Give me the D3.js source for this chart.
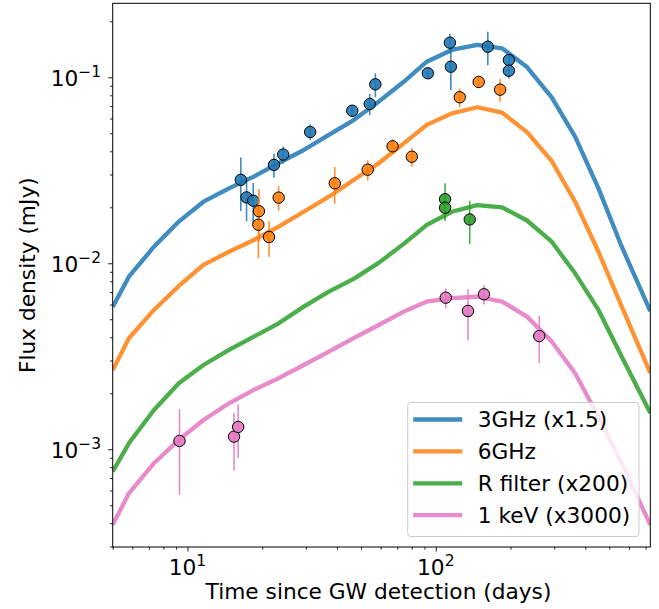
<!DOCTYPE html>
<html>
<head>
<meta charset="utf-8">
<script src="https://cdn.jsdelivr.net/npm/d3@7"></script>
<style>
  body { margin: 0; background: #fff; }
  svg { font-family: "DejaVu Sans", sans-serif; }
</style>
</head>
<body>
<svg id="chart" width="659" height="609"></svg>
<script>
// model light curves (days, mJy)
var modelDays = [5.00, 5.81, 7.33, 9.23, 11.6, 14.7, 18.5, 23.3, 29.4, 37.1, 46.7, 58.9,
                 74.3, 92.0, 116, 147, 185, 233, 293, 364, 452, 561, 731];
var model3GHz = [0.00582, 0.00847, 0.01227, 0.01675, 0.02143, 0.02529, 0.02924, 0.03451,
                 0.04064, 0.04898, 0.05888, 0.07396, 0.09462, 0.1213, 0.1403, 0.1493,
                 0.1432, 0.1135, 0.0780, 0.0480, 0.02529, 0.01227, 0.00553];
var model6GHz = [0.002667, 0.003954, 0.00561, 0.007551, 0.009795, 0.01153, 0.01334, 0.01574,
                 0.01892, 0.0228, 0.02805, 0.03451, 0.04416, 0.05546, 0.06397, 0.06902,
                 0.06457, 0.0507, 0.03548, 0.02143, 0.01153, 0.00585, 0.00257];
var modelR    = [0.000759, 0.001076, 0.001626, 0.002265, 0.002838, 0.00342, 0.004027, 0.004753,
                 0.005848, 0.007031, 0.008241, 0.01005, 0.01271, 0.01607, 0.01892, 0.02056,
                 0.0200, 0.01698, 0.01306, 0.00883, 0.00561, 0.00314, 0.001567];
var model1keV = [0.000392, 0.000579, 0.000841, 0.001122, 0.001436, 0.001766, 0.002084, 0.00241,
                 0.002838, 0.00335, 0.003954, 0.004656, 0.005495, 0.006223, 0.006486, 0.006607,
                 0.006223, 0.005164, 0.003793, 0.002564, 0.001496, 0.000839, 0.000392];

// observations
var obs3GHzDays = [16.4, 17.3, 18.4, 22.3, 24.3, 31.2, 46.1, 54.2, 57.1, 92.9, 114, 115, 162, 197, 197];
var obs3GHzFlux = [0.0281, 0.0226, 0.0217, 0.0338, 0.0384, 0.0508, 0.0661, 0.0719, 0.0917,
                   0.1051, 0.1535, 0.114, 0.146, 0.1239, 0.1085];
var obs3GHzErr  = [0.009, 0.0058, 0.0053, 0.005, 0.004, 0.005, 0.0045, 0.0093, 0.0135,
                   0.006, 0.018, 0.0285, 0.03, 0.008, 0.01];

var obs6GHzDays = [19.4, 19.3, 21.3, 23.3, 39.2, 53.2, 67.0, 80.1, 124.9, 148.9, 181.6];
var obs6GHzFlux = [0.01905, 0.01612, 0.01384, 0.02254, 0.02692, 0.03186, 0.04256, 0.03741,
                   0.0781, 0.0944, 0.0858];
var obs6GHzErr  = [0.006, 0.0055, 0.003, 0.0034, 0.006, 0.004, 0.004, 0.0043, 0.009, 0.007, 0.012];

var obsRDays = [109, 109, 137];
var obsRFlux = [0.0221, 0.0199, 0.0172];
var obsRErr  = [0.0048, 0.003, 0.0045];

var obs1keVDays = [9.29, 15.4, 16.0, 109.7, 134.8, 156.3, 261];
var obs1keVFlux = [0.001108, 0.001169, 0.001318, 0.00653, 0.00554, 0.00681, 0.00406];
var obs1keVErr  = [0.00054, 0.0004, 0.00042, 0.0008, 0.0017, 0.0008, 0.00115];

var seriesNames  = ['3GHz (x1.5)', '6GHz', 'R filter (x200)', '1 keV (x3000)'];
var seriesColors = ['#1f77b4', '#ff7f0e', '#2ca02c', '#e377c2'];

var xMajor = [10, 100];
var yMajor = [0.001, 0.01, 0.1];
var xLabelExp = ['1', '2'];
var yLabelExp = ['\u22123', '\u22122', '\u22121'];

var models = [model3GHz, model6GHz, modelR, model1keV];
var observed = [
	{days: obs3GHzDays, flux: obs3GHzFlux, err: obs3GHzErr},
	{days: obs6GHzDays, flux: obs6GHzFlux, err: obs6GHzErr},
	{days: obsRDays, flux: obsRFlux, err: obsRErr},
	{days: obs1keVDays, flux: obs1keVFlux, err: obs1keVErr}
];

var svg = d3.select('#chart');
var margin = {left: 112.7, right: 8.7, top: 3.3, bottom: 62};
var W = 659, H = 609;
var pw = W - margin.left - margin.right;
var ph = H - margin.top - margin.bottom;
var fs = 21.7;

var x = d3.scaleLog().domain([5.0, 731]).range([0, pw]);
var y = d3.scaleLog().domain([2.98e-4, 0.25]).range([ph, 0]);

var g = svg.append('g').attr('transform', 'translate(' + margin.left + ',' + margin.top + ')');

g.append('clipPath').attr('id', 'clip')
	.append('rect').attr('width', pw).attr('height', ph);

// minor ticks at 2..9 of every decade
function minors(lo, hi) {
	var out = [];
	for (var e = Math.floor(Math.log10(lo)); e <= Math.ceil(Math.log10(hi)); e++) {
		for (var m = 2; m <= 9; m++) {
			var v = m * Math.pow(10, e);
			if (v >= lo && v <= hi) out.push(v);
		}
	}
	return out;
}

var xMinorAxis = g.append('g').attr('transform', 'translate(0,' + ph + ')')
	.call(d3.axisBottom(x).tickValues(minors(5.0, 731)).tickSize(2.6).tickFormat(''));
var yMinorAxis = g.append('g')
	.call(d3.axisLeft(y).tickValues(minors(2.98e-4, 0.25)).tickSize(2.6).tickFormat(''));
var xMajorAxis = g.append('g').attr('transform', 'translate(0,' + ph + ')')
	.call(d3.axisBottom(x).tickValues(xMajor).tickSize(4.5).tickFormat(''));
var yMajorAxis = g.append('g')
	.call(d3.axisLeft(y).tickValues(yMajor).tickSize(4.5).tickFormat(''));

[xMinorAxis, yMinorAxis, xMajorAxis, yMajorAxis].forEach(function(a){
	a.select('.domain').remove();
	a.selectAll('.tick line').attr('stroke', '#000').attr('stroke-width', 0.9);
});

// tick labels with superscripts
xMajor.forEach(function(v, i){
	var t = g.append('text')
		.attr('x', x(v)).attr('y', ph + 28)
		.attr('text-anchor', 'middle')
		.attr('font-size', fs).attr('fill', '#000');
	t.append('tspan').text('10');
	t.append('tspan').attr('dy', -9).attr('font-size', 15.5).text(xLabelExp[i]);
});
yMajor.forEach(function(v, i){
	var t = g.append('text')
		.attr('x', -11.5).attr('y', y(v) + 8.7)
		.attr('text-anchor', 'end')
		.attr('font-size', fs).attr('fill', '#000');
	t.append('tspan').text('10');
	t.append('tspan').attr('dy', -9).attr('font-size', 15.5).text(yLabelExp[i]);
});

// axis titles
svg.append('text')
	.attr('x', margin.left + pw / 2 - 3).attr('y', 599)
	.attr('text-anchor', 'middle').attr('font-size', fs)
	.text('Time since GW detection (days)');
svg.append('text')
	.attr('transform', 'translate(35,' + (margin.top + ph / 2) + ') rotate(-90)')
	.attr('text-anchor', 'middle').attr('font-size', fs)
	.text('Flux density (mJy)');

// model curves
var line = d3.line()
	.x(function(d){ return x(d[0]); })
	.y(function(d){ return y(d[1]); });

var plot = g.append('g').attr('clip-path', 'url(#clip)');

models.forEach(function(m, i){
	plot.append('path')
		.datum(modelDays.map(function(t, k){ return [t, m[k]]; }))
		.attr('d', line)
		.attr('fill', 'none')
		.attr('stroke', seriesColors[i])
		.attr('stroke-opacity', 0.85)
		.attr('stroke-width', 4.3)
		.attr('stroke-linejoin', 'round');
});

// data points with error bars
observed.forEach(function(s, i){
	var pts = s.days.map(function(t, k){ return {t: t, f: s.flux[k], e: s.err[k]}; });
	plot.append('g').selectAll('line').data(pts).enter().append('line')
		.attr('x1', function(d){ return x(d.t); })
		.attr('x2', function(d){ return x(d.t); })
		.attr('y1', function(d){ return y(Math.max(d.f - d.e, 1e-5)); })
		.attr('y2', function(d){ return y(d.f + d.e); })
		.attr('stroke', seriesColors[i])
		.attr('stroke-opacity', 0.85)
		.attr('stroke-width', 1.6);
	plot.append('g').selectAll('circle').data(pts).enter().append('circle')
		.attr('cx', function(d){ return x(d.t); })
		.attr('cy', function(d){ return y(d.f); })
		.attr('r', 5.7)
		.attr('fill', seriesColors[i])
		.attr('fill-opacity', 0.9)
		.attr('stroke', '#000')
		.attr('stroke-width', 1);
});

// frame
g.append('rect').attr('width', pw).attr('height', ph)
	.attr('fill', 'none').attr('stroke', '#000').attr('stroke-width', 1);

// legend
var lg = svg.append('g').attr('transform', 'translate(407.7,402.5)');
lg.append('rect').attr('width', 231.3).attr('height', 134).attr('rx', 3)
	.attr('fill', '#fff').attr('fill-opacity', 0.8)
	.attr('stroke', '#cccccc').attr('stroke-width', 1);
seriesNames.forEach(function(name, i){
	var yy = 17 + i * 31.9;
	lg.append('line').attr('x1', 5.5).attr('x2', 54.5).attr('y1', yy).attr('y2', yy)
		.attr('stroke', seriesColors[i]).attr('stroke-opacity', 0.85).attr('stroke-width', 4.3);
	lg.append('text').attr('x', 70).attr('y', yy + 7.9)
		.attr('font-size', fs).text(name);
});
</script>
</body>
</html>
